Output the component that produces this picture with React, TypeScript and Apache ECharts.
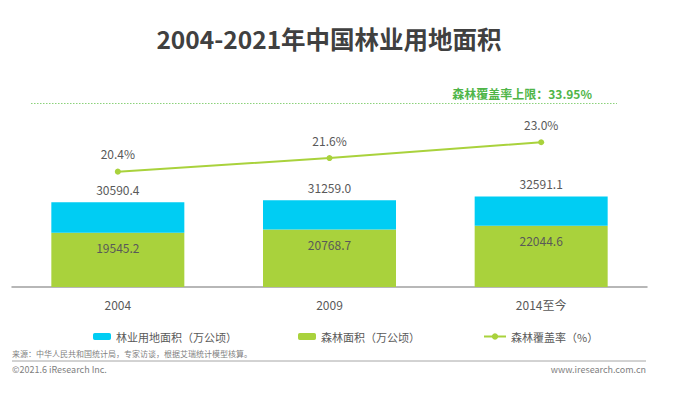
import React, { useEffect, useRef } from "react";
import * as echarts from "echarts";

const categories = ["2004", "2009", "2014至今"];
const forestLand = [30590.4, 31259.0, 32591.1];
const forestArea = [19545.2, 20768.7, 22044.6];
const coverageRate = [20.4, 21.6, 23.0];
const coverageCap = "森林覆盖率上限：33.95%";
const seriesNames = ["林业用地面积（万公顷）", "森林面积（万公顷）", "森林覆盖率（%）"];

const CYAN = "#00CDF3";
const GREEN = "#A9D23C";
const LABEL = "#595959";
const FONT = "'Noto Sans CJK SC', 'Noto Sans', sans-serif";

export default function App() {
  const ref = useRef<HTMLDivElement>(null);
  useEffect(() => {
    if (!ref.current) return;
    const chart = echarts.init(ref.current, undefined, { renderer: "svg" });
    const legendText = { color: LABEL, fontSize: 11, fontFamily: FONT };
    chart.setOption({
      animation: false,
      backgroundColor: "#ffffff",
      textStyle: { fontFamily: FONT },
      grid: { left: 12, right: 33, top: 103, bottom: 112, containLabel: false },
      legend: [
        { data: [seriesNames[0]], left: 88, top: 326, itemWidth: 18, itemHeight: 7, textStyle: legendText, selectedMode: false },
        { data: [seriesNames[1]], left: 293, top: 326, itemWidth: 18, itemHeight: 7, textStyle: legendText, selectedMode: false },
        { data: [seriesNames[2]], left: 478, top: 326, itemWidth: 22, itemHeight: 8, textStyle: legendText, selectedMode: false },
      ],
      xAxis: {
        type: "category",
        data: categories,
        axisLine: { lineStyle: { color: "#a0a0a0", width: 1.5 } },
        axisTick: { show: false },
        axisLabel: { color: LABEL, fontSize: 12, margin: 11, fontFamily: FONT },
      },
      yAxis: [
        { type: "value", min: 0, max: 66330, show: false, splitLine: { show: false } },
        { type: "value", min: 10.2, max: 26.47, show: false, splitLine: { show: false } },
      ],
      series: [
        {
          name: seriesNames[1],
          type: "bar",
          stack: "total",
          barWidth: 133,
          itemStyle: { color: GREEN },
          label: {
            show: true,
            position: "insideTop",
            distance: 9,
            color: LABEL,
            fontSize: 12,
            fontFamily: FONT,
            formatter: (p: any) => forestArea[p.dataIndex].toFixed(1),
          },
          data: forestArea,
        },
        {
          name: seriesNames[0],
          type: "bar",
          stack: "total",
          barWidth: 133,
          itemStyle: { color: CYAN },
          label: {
            show: true,
            position: "top",
            distance: 7,
            color: LABEL,
            fontSize: 12,
            fontFamily: FONT,
            formatter: (p: any) => forestLand[p.dataIndex].toFixed(1),
          },
          data: forestLand.map((v, i) => +(v - forestArea[i]).toFixed(1)),
        },
        {
          name: seriesNames[2],
          type: "line",
          yAxisIndex: 1,
          symbol: "circle",
          symbolSize: 6,
          lineStyle: { color: GREEN, width: 2 },
          itemStyle: { color: GREEN },
          label: {
            show: true,
            position: "top",
            distance: 9,
            color: LABEL,
            fontSize: 12,
            fontFamily: FONT,
            formatter: (p: any) => coverageRate[p.dataIndex].toFixed(1) + "%",
          },
          data: coverageRate,
        },
      ],
      graphic: [
        {
          type: "text",
          x: 329,
          y: 38,
          style: {
            text: "2004-2021年中国林业用地面积",
            fill: "#404040",
            fontSize: 24.5,
            fontWeight: "bold",
            fontFamily: FONT,
            align: "center",
            verticalAlign: "middle",
          },
        },
        {
          type: "line",
          shape: { x1: 31, y1: 103.5, x2: 617, y2: 103.5 },
          style: { stroke: "#8bd27a", lineWidth: 1.2, lineDash: [1.5, 1.5] },
        },
        {
          type: "text",
          x: 592,
          y: 93,
          style: {
            text: coverageCap,
            fill: "#4fb548",
            fontSize: 12,
            fontWeight: "bold",
            fontFamily: FONT,
            align: "right",
            verticalAlign: "middle",
          },
        },
        {
          type: "text",
          x: 12,
          y: 353,
          style: { text: "来源：中华人民共和国统计局，专家访谈，根据艾瑞统计模型核算。", fill: "#7f7f7f", fontSize: 8, fontFamily: FONT, verticalAlign: "middle" },
        },
        {
          type: "line",
          shape: { x1: 12, y1: 361, x2: 646, y2: 361 },
          style: { stroke: "#a6a6a6", lineWidth: 1 },
        },
        {
          type: "text",
          x: 12,
          y: 369,
          style: { text: "©2021.6 iResearch Inc.", fill: "#7f7f7f", fontSize: 9, fontFamily: FONT, verticalAlign: "middle" },
        },
        {
          type: "text",
          x: 646,
          y: 369,
          style: { text: "www.iresearch.com.cn", fill: "#7f7f7f", fontSize: 9, fontFamily: FONT, align: "right", verticalAlign: "middle" },
        },
      ],
    });
    return () => chart.dispose();
  }, []);
  return <div ref={ref} style={{ width: 680, height: 399, position: "absolute", left: 0, top: 0 }} />;
}
